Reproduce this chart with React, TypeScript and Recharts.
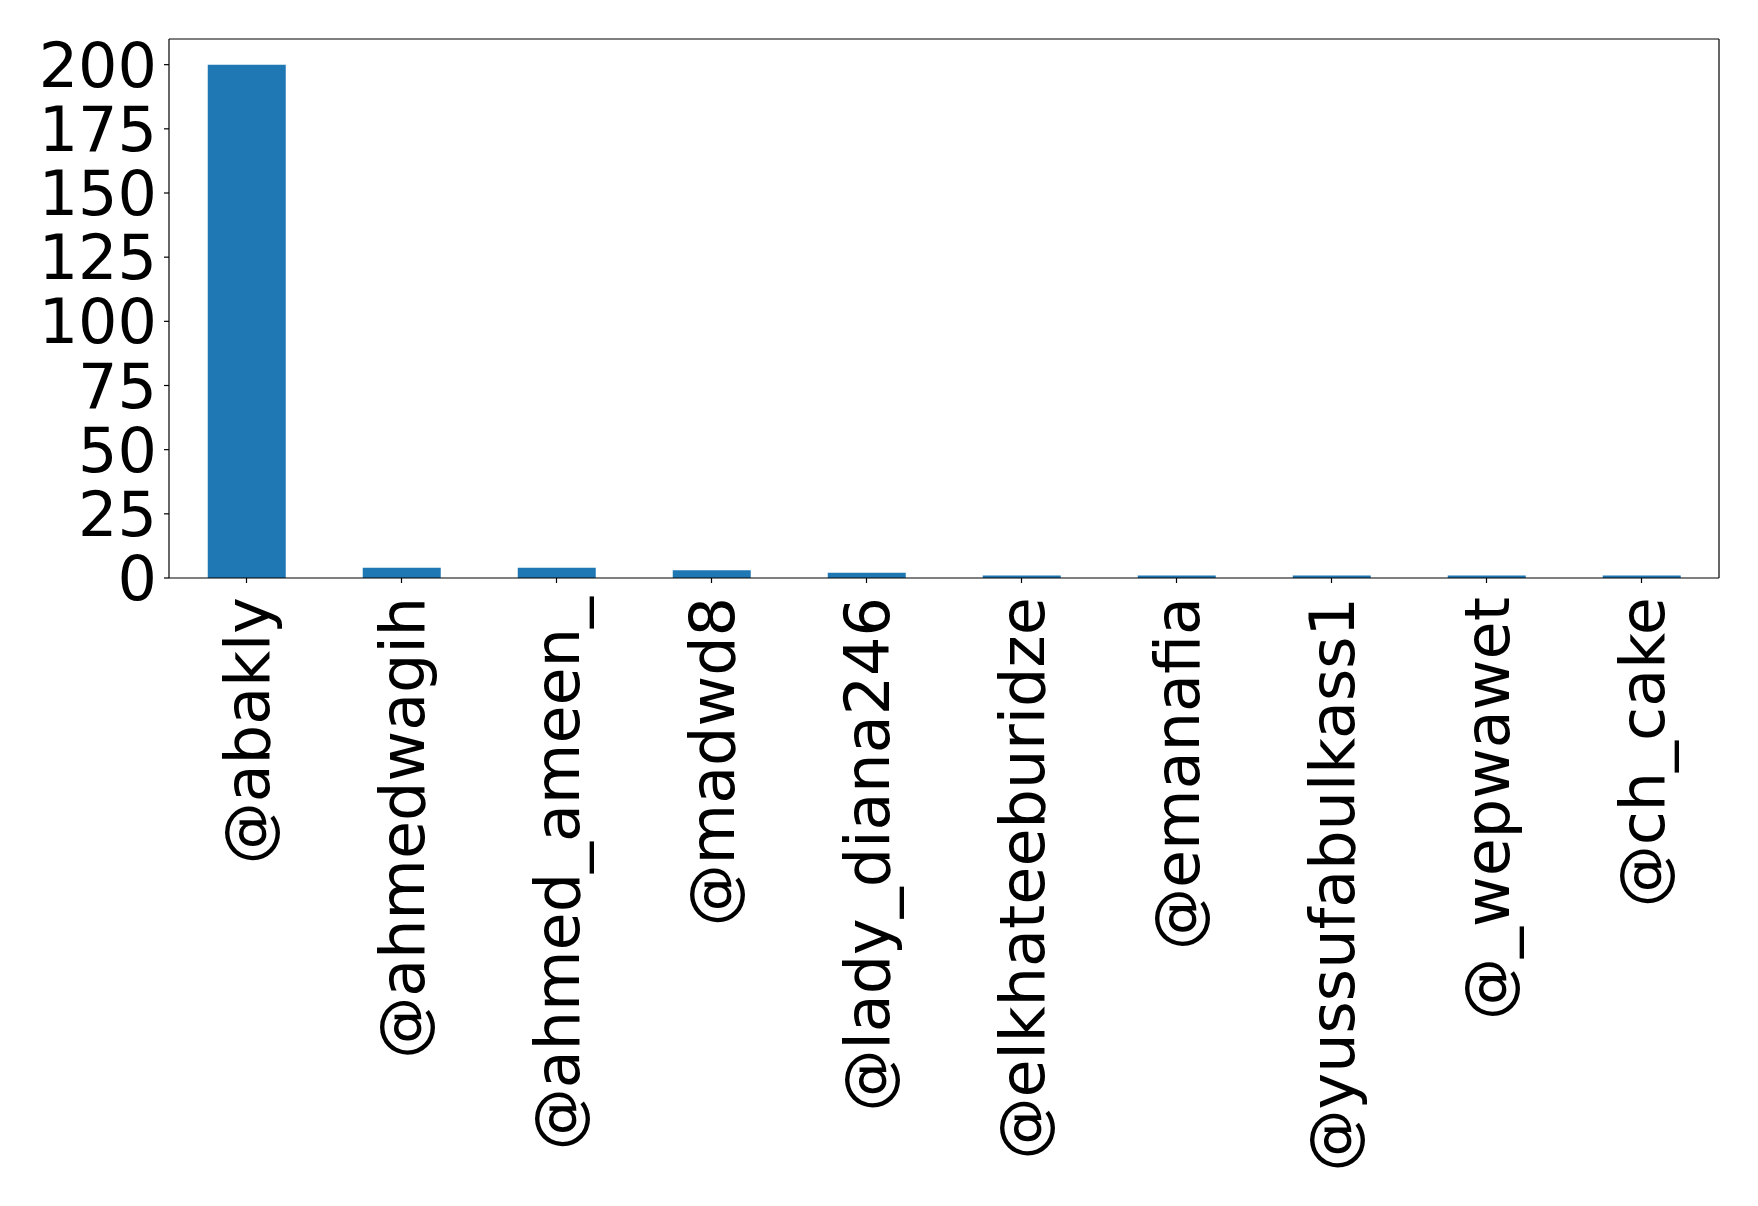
import { BarChart, Bar, XAxis, YAxis } from 'recharts';

const handles = [
  '@abakly',
  '@ahmedwagih',
  '@ahmed_ameen_',
  '@madwd8',
  '@lady_diana246',
  '@elkhateeburidze',
  '@emanafia',
  '@yussufabulkass1',
  '@_wepwawet',
  '@ch_cake',
];
const counts = [200, 4, 4, 3, 2, 1, 1, 1, 1, 1];
const yTicks = [0, 25, 50, 75, 100, 125, 150, 175, 200];

const data = handles.map((handle, i) => ({ handle, count: counts[i] }));

const FONT = '"DejaVu Sans", sans-serif';
const AXIS = { stroke: '#000', strokeWidth: 1.2 };

function RotatedTick({ x, y, payload }: any) {
  const ty = y + 12;
  return (
    <text
      x={x}
      y={ty}
      transform={`rotate(-90, ${x}, ${ty})`}
      textAnchor="end"
      dy="0.36em"
      fontSize={62}
      fontFamily={FONT}
      fill="#000"
    >
      {payload.value}
    </text>
  );
}

export default function App() {
  return (
    <div style={{ position: 'absolute', left: 0, top: 0, background: '#fff' }}>
      <BarChart
        width={1758}
        height={1206}
        data={data}
        margin={{ top: 38, right: 38, left: 0, bottom: 0 }}
        barCategoryGap="25%"
      >
        <XAxis
          dataKey="handle"
          height={628}
          interval={0}
          tickSize={5}
          axisLine={AXIS}
          tickLine={AXIS}
          tick={<RotatedTick />}
        />
        <XAxis
          xAxisId="top"
          orientation="top"
          dataKey="handle"
          height={1}
          tick={false}
          tickLine={false}
          axisLine={AXIS}
        />
        <YAxis
          width={169}
          domain={[0, 210]}
          ticks={yTicks}
          interval={0}
          tickSize={5}
          tickMargin={7}
          axisLine={AXIS}
          tickLine={AXIS}
          tick={{ fontSize: 62, fontFamily: FONT, fill: '#000' }}
        />
        <YAxis
          yAxisId="right"
          orientation="right"
          width={1}
          domain={[0, 210]}
          tick={false}
          tickLine={false}
          axisLine={AXIS}
        />
        <Bar dataKey="count" fill="#1f77b4" isAnimationActive={false} />
      </BarChart>
    </div>
  );
}
